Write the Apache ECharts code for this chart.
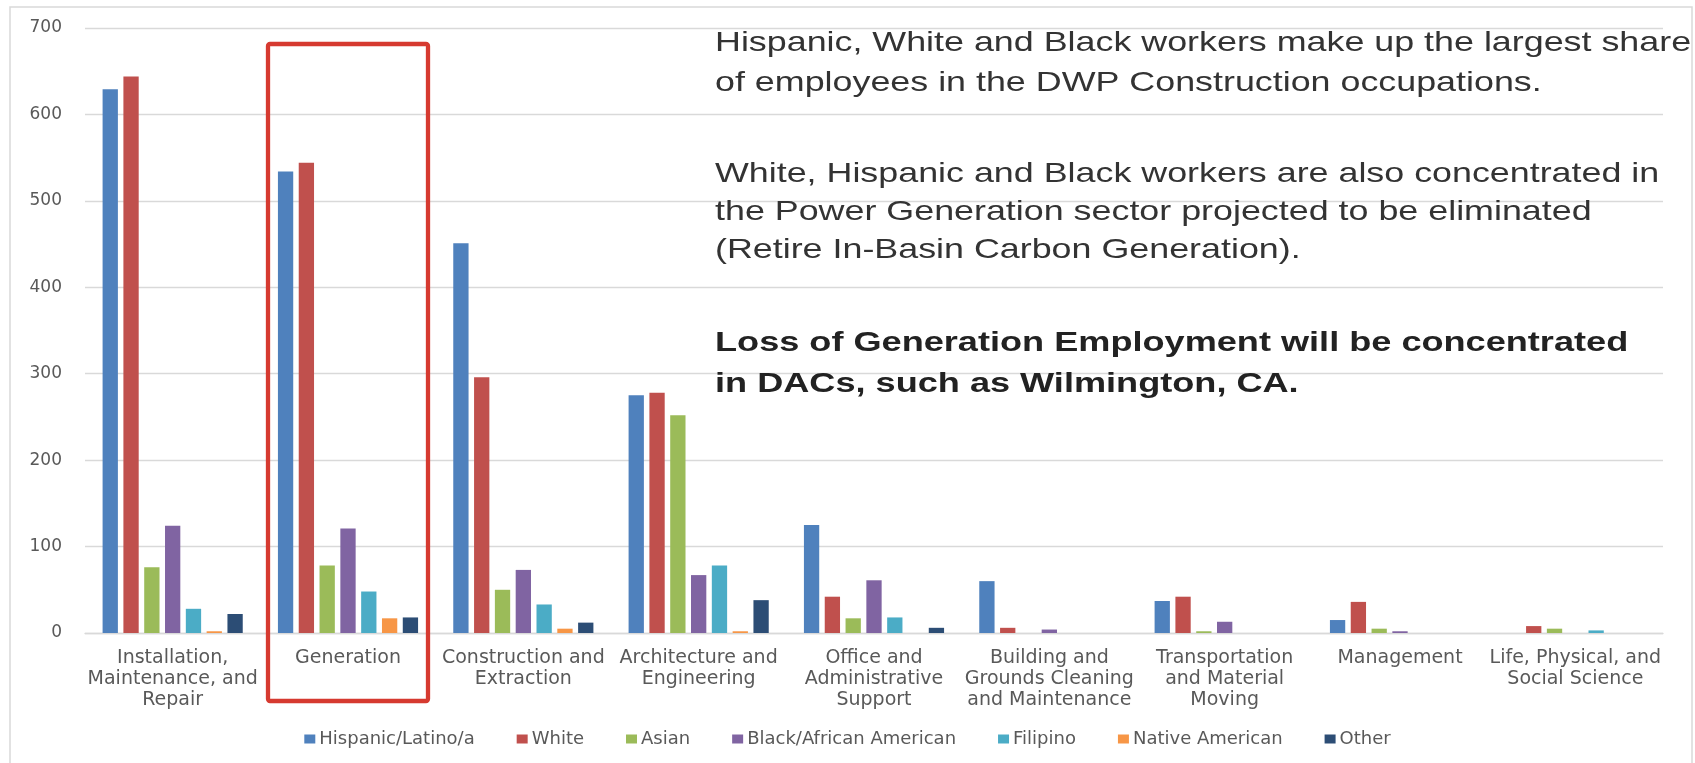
<!DOCTYPE html>
<html><head><meta charset="utf-8">
<script src="https://cdn.jsdelivr.net/npm/echarts@6/dist/echarts.min.js"></script>
<style>html,body{margin:0;padding:0;background:#fff}#c{width:1695px;height:763px}</style>
</head><body><div id="c"></div><script>
// ---- data ----
const categories = [
  'Installation,\nMaintenance, and\nRepair',
  'Generation',
  'Construction and\nExtraction',
  'Architecture and\nEngineering',
  'Office and\nAdministrative\nSupport',
  'Building and\nGrounds Cleaning\nand Maintenance',
  'Transportation\nand Material\nMoving',
  'Management',
  'Life, Physical, and\nSocial Science'
];
const seriesNames = ['Hispanic/Latino/a', 'White', 'Asian', 'Black/African American', 'Filipino', 'Native American', 'Other'];
const hispanic = [629, 534, 451, 275, 125, 60, 37, 15, 0];
const white    = [644, 544, 296, 278, 42, 6, 42, 36, 8];
const asian    = [76, 78, 50, 252, 17, 0, 2, 5, 5];
const black    = [124, 121, 73, 67, 61, 4, 13, 2, 0];
const filipino = [28, 48, 33, 78, 18, 0, 0, 0, 3];
const native   = [2, 17, 5, 2, 0, 0, 0, 0, 0];
const other    = [22, 18, 12, 38, 6, 0, 0, 0, 0];
const yTicks = { min: 0, max: 700, interval: 100 };
const highlightCategory = categories[1];
const noteParagraph1 = ['Hispanic, White and Black workers make up the largest share', 'of employees in the DWP Construction occupations.'];
const noteParagraph2 = ['White, Hispanic and Black workers are also concentrated in', 'the Power Generation sector projected to be eliminated', '(Retire In-Basin Carbon Generation).'];
const noteParagraph3 = ['Loss of Generation Employment will be concentrated', 'in DACs, such as Wilmington, CA.'];

const colors = ['#4F81BD', '#C0504D', '#9BBB59', '#8064A2', '#4BACC6', '#F79646', '#2C4D75'];
const values = [hispanic, white, asian, black, filipino, native, other];

const chart = echarts.init(document.getElementById('c'), null, { renderer: 'canvas' });
const labelFont = 'DejaVu Sans';

const option = {
  animation: false,
  backgroundColor: '#ffffff',
  color: colors,
  grid: { left: 85, right: 32, top: 28, bottom: 130, containLabel: false },
  legend: {
    data: seriesNames,
    left: 'center',
    top: 725,
    itemWidth: 11,
    itemHeight: 9,
    itemGap: 42,
    icon: 'rect',
    textStyle: { fontFamily: labelFont, fontSize: 18, color: '#595959', padding: [0, 0, 0, -1] }
  },
  xAxis: {
    type: 'category',
    data: categories,
    axisLine: { lineStyle: { color: '#D9D9D9', width: 1.3 } },
    axisTick: { show: false },
    axisLabel: { interval: 0, fontFamily: labelFont, fontSize: 19, color: '#595959', lineHeight: 21, margin: 15 }
  },
  yAxis: {
    type: 'value',
    min: yTicks.min, max: yTicks.max, interval: yTicks.interval,
    axisLine: { show: false },
    axisTick: { show: false },
    splitLine: { lineStyle: { color: '#D9D9D9', width: 1.3 } },
    axisLabel: { fontFamily: labelFont, fontSize: 17, color: '#595959', margin: 23 }
  },
  series: seriesNames.map((n, i) => ({
    name: n,
    type: 'bar',
    data: values[i],
    barWidth: 15.3,
    barGap: '36%',
    itemStyle: { color: colors[i] }
  }))
};
chart.setOption(option);

// annotations
const cx = chart.convertToPixel({ xAxisIndex: 0 }, highlightCategory);
const yTop = chart.convertToPixel({ yAxisIndex: 0 }, yTicks.max);
const y0 = chart.convertToPixel({ yAxisIndex: 0 }, 0);

function textLines(lines, yStart, lh, bold, idp, sx) {
  return lines.map((t, k) => ({
    type: 'text', id: idp + k, x: 715, y: yStart + k * lh, scaleX: sx, z: 10,
    style: {
      text: t, fontFamily: 'Liberation Sans', fontSize: 28, fontWeight: bold ? 'bold' : 'normal',
      fill: bold ? '#222222' : '#333333', verticalAlign: 'middle', align: 'left'
    }
  }));
}

chart.setOption({
  graphic: [
    { type: 'rect', id: 'frame', shape: { x: 10, y: 7, width: 1682, height: 800 },
      style: { fill: 'none', stroke: '#D9D9D9', lineWidth: 1.5 }, z: 0, silent: true },
    { type: 'rect', id: 'hl', shape: { x: cx - 80, y: yTop + 16, width: 160, height: (y0 + 68) - (yTop + 16), r: 2 },
      style: { fill: 'none', stroke: '#D63A30', lineWidth: 4.3 }, z: 20 }
  ].concat(
    textLines(noteParagraph1, 43, 40.5, false, 'p1_', 1.28),
    textLines(noteParagraph2, 174.5, 38, false, 'p2_', 1.28),
    textLines(noteParagraph3, 343, 41, true, 'p3_', 1.29)
  )
});
</script></body></html>
